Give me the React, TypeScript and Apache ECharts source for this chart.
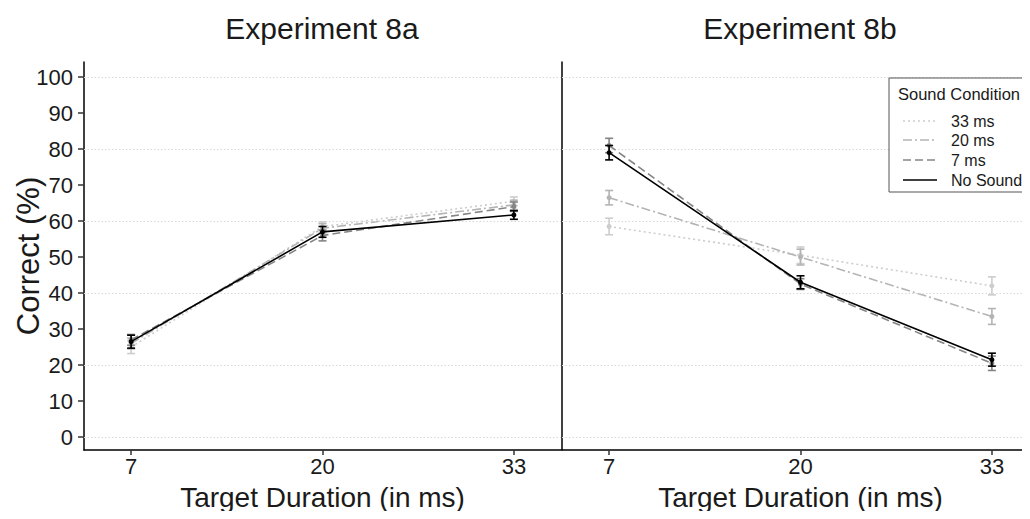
import React, { useEffect, useRef } from "react";
import * as echarts from "echarts";

const durations = [7, 20, 33];
const conditions = ["33 ms", "20 ms", "7 ms", "No Sound"];
const yTicks = [0, 10, 20, 30, 40, 50, 60, 70, 80, 90, 100];
const gridValues = [0, 20, 40, 60, 80, 100];

// Experiment 8a
const a33 = [25, 58.5, 65.5];
const a33err = [1.8, 1.3, 1.2];
const a20 = [26, 58, 64.5];
const a20err = [1.5, 1.3, 1.3];
const a7 = [27, 56, 64];
const a7err = [1.5, 1.5, 1.3];
const aNo = [26.5, 57, 61.7];
const aNoErr = [1.8, 1.5, 1.2];

// Experiment 8b
const b33 = [58.5, 50.5, 42];
const b33err = [2.3, 2.3, 2.5];
const b20 = [66.5, 50, 33.5];
const b20err = [2, 2.2, 2.2];
const b7 = [81, 42.5, 20.5];
const b7err = [2, 1.5, 2];
const bNo = [79, 43, 21.5];
const bNoErr = [2, 1.8, 1.8];

const colors = ["#cdcdcd", "#b4b4b4", "#858585", "#000000"];
const dashes: any[] = [[2, 3], [9, 3, 2, 3], [8, 4], "solid"];
const FONT = "'Liberation Sans', Arial, Helvetica, sans-serif";

export default function App() {
  const ref = useRef<HTMLDivElement>(null);
  useEffect(() => {
    if (!ref.current) return;
    const chart = echarts.init(ref.current, null, { renderer: "svg" });
    const panels = [
      { vals: [a33, a20, a7, aNo], errs: [a33err, a20err, a7err, aNoErr] },
      { vals: [b33, b20, b7, bNo], errs: [b33err, b20err, b7err, bNoErr] },
    ];
    const series: any[] = [];
    panels.forEach((p, pi) => {
      series.push({
        type: "line",
        xAxisIndex: pi,
        yAxisIndex: pi,
        data: [],
        silent: true,
        markLine: {
          silent: true,
          symbol: "none",
          label: { show: false },
          lineStyle: { color: "#d8d8d8", type: [1.5, 2], width: 1 },
          data: gridValues.map((v) => ({ yAxis: v })),
        },
      });
      p.vals.forEach((vals, ci) => {
        series.push({
          type: "custom",
          xAxisIndex: pi,
          yAxisIndex: pi,
          z: 3 + ci,
          data: durations.map((d, i) => [d, vals[i] - p.errs[ci][i], vals[i] + p.errs[ci][i]]),
          renderItem: (params: any, api: any) => {
            const x = api.value(0);
            const lo = api.coord([x, api.value(1)]);
            const hi = api.coord([x, api.value(2)]);
            const st = { stroke: colors[ci], lineWidth: 1.6 };
            return {
              type: "group",
              children: [
                { type: "line", shape: { x1: lo[0], y1: lo[1], x2: hi[0], y2: hi[1] }, style: st },
                { type: "line", shape: { x1: lo[0] - 4, y1: lo[1], x2: lo[0] + 4, y2: lo[1] }, style: st },
                { type: "line", shape: { x1: hi[0] - 4, y1: hi[1], x2: hi[0] + 4, y2: hi[1] }, style: st },
              ],
            };
          },
        });
        series.push({
          type: "line",
          name: conditions[ci],
          xAxisIndex: pi,
          yAxisIndex: pi,
          z: 3 + ci,
          data: durations.map((d, i) => [d, vals[i]]),
          symbol: "circle",
          symbolSize: 5,
          itemStyle: { color: colors[ci] },
          lineStyle: { color: colors[ci], width: 1.6, type: dashes[ci] },
        });
      });
    });

    const xAxisBase = (gi: number) => ({
      type: "value",
      gridIndex: gi,
      min: 3.8,
      max: 36.2,
      axisLine: { show: true, onZero: false, lineStyle: { color: "#000", width: 1.5 } },
      axisTick: { show: true, customValues: durations, length: 5, lineStyle: { color: "#333", width: 1.5 } },
      axisLabel: { customValues: durations, fontSize: 22, color: "#1a1a1a", fontFamily: FONT, margin: 5 },
      splitLine: { show: false },
      name: "Target Duration (in ms)",
      nameLocation: "middle",
      nameGap: 33,
      nameMoveOverlap: false,
      nameTextStyle: { fontSize: 28, color: "#1a1a1a", fontFamily: FONT },
    });

    const legendGraphics: any[] = [
      { type: "rect", shape: { x: 889, y: 78, width: 160, height: 114 }, style: { fill: "#fff", stroke: "#555", lineWidth: 1 }, z: 100 },
      { type: "text", x: 898, y: 94, z: 101, style: { text: "Sound Condition", fontSize: 16.5, fontFamily: FONT, fill: "#1a1a1a", verticalAlign: "middle" } },
    ];
    const legendY = [121, 140, 160, 180];
    conditions.forEach((c, ci) => {
      legendGraphics.push({
        type: "line",
        z: 101,
        shape: { x1: 903, y1: legendY[ci], x2: 937, y2: legendY[ci] },
        style: { stroke: colors[ci], lineWidth: 1.6, lineDash: dashes[ci] === "solid" ? null : dashes[ci] },
      });
      legendGraphics.push({
        type: "text",
        x: 951,
        y: legendY[ci],
        z: 101,
        style: { text: c, fontSize: 16, fontFamily: FONT, fill: "#1a1a1a", verticalAlign: "middle" },
      });
    });

    chart.setOption({
      animation: false,
      backgroundColor: "#fff",
      textStyle: { fontFamily: FONT },
      grid: [
        { left: 84, top: 62, width: 477, height: 388, outerBoundsMode: "none", containLabel: false },
        { left: 562, top: 62, width: 477, height: 388, outerBoundsMode: "none", containLabel: false },
      ],
      xAxis: [xAxisBase(0), xAxisBase(1)],
      yAxis: [
        {
          type: "value",
          gridIndex: 0,
          min: -3.6,
          max: 104.2,
          axisLine: { show: true, onZero: false, lineStyle: { color: "#000", width: 1.5 } },
          axisTick: { show: true, customValues: yTicks, length: 6, lineStyle: { color: "#333", width: 1.5 } },
          axisLabel: { customValues: yTicks, fontSize: 22, color: "#1a1a1a", fontFamily: FONT, margin: 11 },
          splitLine: { show: false },
          name: "Correct (%)",
          nameLocation: "middle",
          nameGap: 40,
          nameRotate: 90,
          nameMoveOverlap: false,
          nameTextStyle: { fontSize: 31, color: "#1a1a1a", fontFamily: FONT },
        },
        {
          type: "value",
          gridIndex: 1,
          min: -3.6,
          max: 104.2,
          axisLine: { show: true, onZero: false, lineStyle: { color: "#000", width: 1.5 } },
          axisTick: { show: false },
          axisLabel: { show: false },
          splitLine: { show: false },
        },
      ],
      graphic: [
        { type: "text", x: 322, y: 28, style: { text: "Experiment 8a", fontSize: 30, fontFamily: FONT, fill: "#1a1a1a", align: "center", verticalAlign: "middle" } },
        { type: "text", x: 800, y: 28, style: { text: "Experiment 8b", fontSize: 30, fontFamily: FONT, fill: "#1a1a1a", align: "center", verticalAlign: "middle" } },
        ...legendGraphics,
      ],
      series,
    });
    return () => chart.dispose();
  }, []);
  return <div ref={ref} style={{ width: 1030, height: 519, margin: -8 }} />;
}
